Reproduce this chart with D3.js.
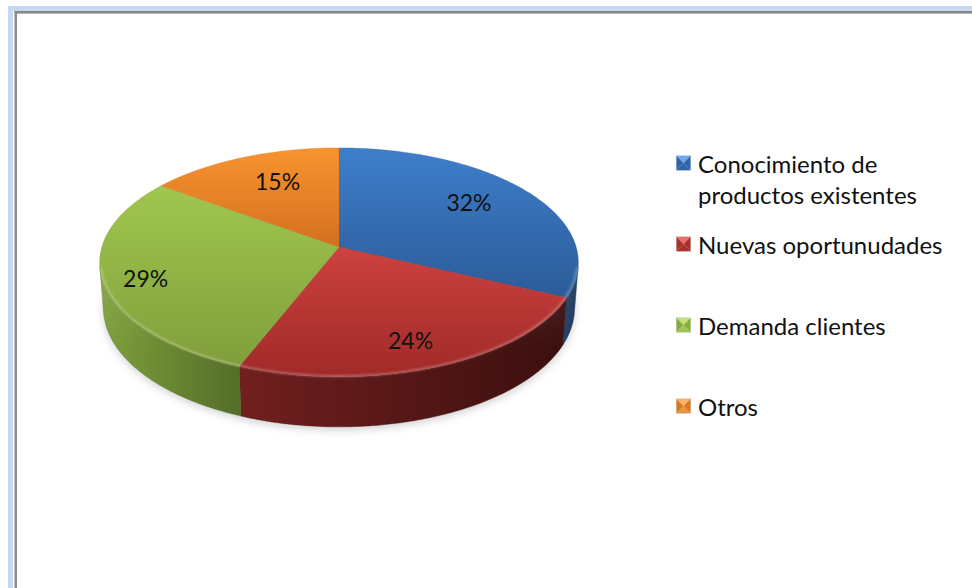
<!DOCTYPE html>
<html>
<head>
<meta charset="utf-8">
<script src="https://cdn.jsdelivr.net/npm/d3@7"></script>
<style>
  html, body { margin: 0; padding: 0; background: #ffffff; }
  svg { display: block; }
</style>
</head>
<body>
<script>
// ---- data ----
const categories = ["Conocimiento de productos existentes", "Nuevas oportunudades", "Demanda clientes", "Otros"];
const legendLines = [["Conocimiento de", "productos existentes"], ["Nuevas oportunudades"], ["Demanda clientes"], ["Otros"]];
const shares = [32, 24, 29, 15];

// ---- styling ----
const topShades  = [["#3E7ECB", "#2C5C98"], ["#CD423F", "#A02A28"], ["#A0C74F", "#809E3B"], ["#F8932F", "#D3701E"]];
const wallShades = [["#22426C", "#16304F"], ["#721F1F", "#3B0F0F"], ["#7FA03C", "#546D28"], ["#B86A20", "#8A4E15"]];
const markerShades = [["#6FA8EA", "#2F64A8"], ["#E8706B", "#A8302D"], ["#C2E07A", "#86AC3C"], ["#FBB46A", "#D8781E"]];
// label placement: fraction of the radius, and a small turn (degrees) off the slice's mid-angle
const labelReach = [0.72, 0.79, 0.83, 0.70];
const labelTurn = [-4, 1.5, -2.5, 3.3];

const W = 972, H = 588;
const FONT = "Lato, 'Open Sans', 'DejaVu Sans', sans-serif";

// perspective camera looking down at a disc of radius 1 lying in the y = 0 plane
const cam = { cx: 339, cy: 247, F: 1556, D: 6.56, tilt: Math.asin(0.474), depth: 0.221 };
const sT = Math.sin(cam.tilt), cT = Math.cos(cam.tilt);
function project(x, y, z) {
  const vy = y - cam.D * sT, vz = z + cam.D * cT;
  const dep = -vy * sT + vz * cT;
  const up = vy * cT + vz * sT;
  return [cam.cx + cam.F * x / dep, cam.cy - cam.F * up / dep];
}
function rimPoints(a0, a1, r, y) {
  const n = Math.max(2, Math.ceil(Math.abs(a1 - a0) / (Math.PI / 360)) + 1);
  return d3.range(n).map(i => {
    const a = a0 + (a1 - a0) * i / (n - 1);
    return project(r * Math.sin(a), y, r * Math.cos(a));
  });
}

const svg = d3.select("body").append("svg").attr("width", W).attr("height", H);
const defs = svg.append("defs");

// ---- frame ----
svg.append("rect").attr("x", 8).attr("y", 6).attr("width", W).attr("height", H).attr("fill", "#C6D9F1");
svg.append("rect").attr("x", 13).attr("y", 11).attr("width", W).attr("height", H).attr("fill", "#FFFFFF");
svg.append("rect").attr("x", 14.5).attr("y", 11).attr("width", W).attr("height", 2).attr("fill", "#868686");
svg.append("rect").attr("x", 17).attr("y", 13).attr("width", W).attr("height", 1).attr("fill", "#B8B8B8");
svg.append("rect").attr("x", 14.5).attr("y", 11).attr("width", 2.5).attr("height", H).attr("fill", "#8A8A8A");

// ---- pie ----
const pie = d3.pie().sort(null).value(d => d);
const arcs = pie(shares);
const line = d3.line();

// soft shadow under the disc
const blur = defs.append("filter").attr("id", "shadowBlur").attr("x", "-20%").attr("y", "-20%").attr("width", "140%").attr("height", "140%");
blur.append("feGaussianBlur").attr("stdDeviation", 4);
const rimBlur = defs.append("filter").attr("id", "rimBlur");
rimBlur.append("feGaussianBlur").attr("stdDeviation", 0.8);

const outline = rimPoints(0, 2 * Math.PI, 1.0, -cam.depth);
svg.append("path")
  .attr("d", line(outline) + "Z")
  .attr("transform", "translate(0,3)")
  .attr("fill", "#9A9A9A").attr("opacity", 0.45)
  .attr("filter", "url(#shadowBlur)");

// the rim faces the viewer only where cos(angle) < -1 / (D cos tilt)
const vis = Math.acos(-1 / (cam.D * cT));
const visFrom = vis, visTo = 2 * Math.PI - vis;

const pieG = svg.append("g");

arcs.forEach((a, i) => {
  const g = defs.append("linearGradient").attr("id", "wall" + i).attr("x1", 0).attr("y1", 0).attr("x2", 1).attr("y2", 0);
  g.append("stop").attr("offset", 0).attr("stop-color", wallShades[i][0]);
  g.append("stop").attr("offset", 1).attr("stop-color", wallShades[i][1]);
  const t = defs.append("linearGradient").attr("id", "top" + i).attr("x1", 0).attr("y1", 0).attr("x2", 0).attr("y2", 1);
  t.append("stop").attr("offset", 0).attr("stop-color", topShades[i][0]);
  t.append("stop").attr("offset", 1).attr("stop-color", topShades[i][1]);
});

// outer walls
arcs.forEach((a, i) => {
  const a0 = Math.max(a.startAngle, visFrom), a1 = Math.min(a.endAngle, visTo);
  if (a1 <= a0) return;
  const top = rimPoints(a0, a1, 1, 0);
  const bottom = rimPoints(a1, a0, 1, -cam.depth);
  pieG.append("path")
    .attr("d", line(top.concat(bottom)) + "Z")
    .attr("fill", `url(#wall${i})`)
    .attr("stroke", wallShades[i][1]).attr("stroke-width", 0.4);
});

// soft sheen just below the rim
const sheen = defs.append("linearGradient").attr("id", "sheen").attr("x1", 0).attr("y1", 0).attr("x2", 0).attr("y2", 1);
sheen.append("stop").attr("offset", 0).attr("stop-color", "#ffffff").attr("stop-opacity", 0.10);
sheen.append("stop").attr("offset", 0.5).attr("stop-color", "#ffffff").attr("stop-opacity", 0.0);
{
  const top = rimPoints(visFrom, visTo, 1, 0);
  const bottom = rimPoints(visTo, visFrom, 1, -cam.depth);
  pieG.append("path").attr("d", line(top.concat(bottom)) + "Z").attr("fill", "url(#sheen)");
}

// top faces
const centre = project(0, 0, 0);
arcs.forEach((a, i) => {
  const pts = [centre].concat(rimPoints(a.startAngle, a.endAngle, 1, 0));
  pieG.append("path")
    .attr("d", line(pts) + "Z")
    .attr("fill", `url(#top${i})`)
    .attr("stroke", topShades[i][1]).attr("stroke-width", 0.3);
});

// bevel highlight along the front edge of the top face
pieG.append("path")
  .attr("d", line(rimPoints(visFrom, visTo, 0.995, 0)))
  .attr("fill", "none")
  .attr("stroke", "#ffffff").attr("stroke-opacity", 0.35).attr("stroke-width", 1.6)
  .attr("filter", "url(#rimBlur)");

// value labels
arcs.forEach((a, i) => {
  const mid = (a.startAngle + a.endAngle) / 2 + labelTurn[i] * Math.PI / 180, r = labelReach[i];
  const [x, y] = project(r * Math.sin(mid), 0, r * Math.cos(mid));
  svg.append("text")
    .attr("x", x).attr("y", y)
    .attr("text-anchor", "middle").attr("dominant-baseline", "central")
    .attr("font-family", FONT).attr("font-size", 23).attr("fill", "#111111")
    .text(`${a.data}%`);
});

// ---- legend ----
const legend = svg.append("g").attr("transform", "translate(676,163)");
const rowStep = 81, lineStep = 31, box = 15;
categories.forEach((c, i) => {
  const row = legend.append("g").attr("transform", `translate(0,${i * rowStep})`);
  const h = box / 2;
  const [light, dark] = markerShades[i];
  const mid = d3.interpolateRgb(light, dark)(0.55);
  const tri = (pts, fill) => row.append("path").attr("d", line(pts) + "Z").attr("fill", fill);
  tri([[0, -h], [box, -h], [h, 0]], light);
  tri([[0, h], [box, h], [h, 0]], i === 0 || i === 1 ? dark : mid);
  tri([[0, -h], [0, h], [h, 0]], dark);
  tri([[box, -h], [box, h], [h, 0]], dark);
  row.append("rect").attr("x", 0.25).attr("y", -h + 0.25).attr("width", box - 0.5).attr("height", box - 0.5)
    .attr("fill", "none").attr("stroke", "#d8d8d8").attr("stroke-width", 0.5);
  legendLines[i].forEach((t, k) => {
    row.append("text")
      .attr("x", 22).attr("y", k * lineStep)
      .attr("dominant-baseline", "central")
      .attr("font-family", FONT).attr("font-size", 24).attr("fill", "#111111")
      .text(t);
  });
});
</script>
</body>
</html>
